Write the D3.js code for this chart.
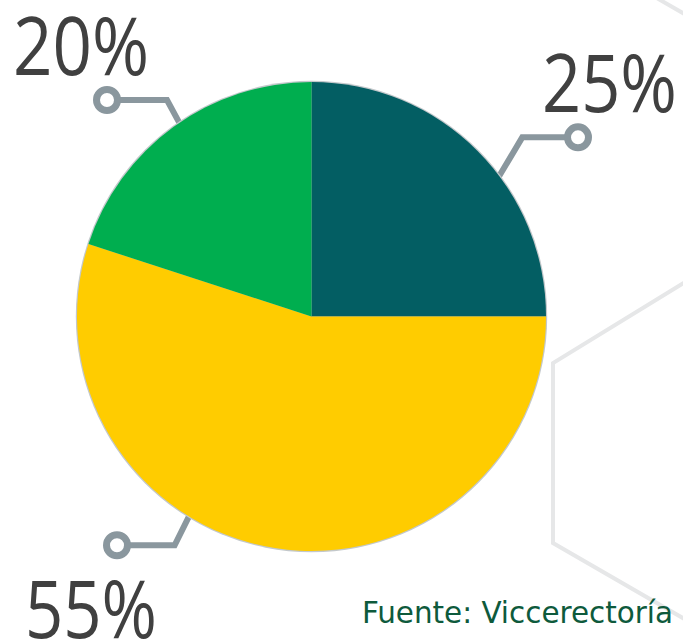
<!DOCTYPE html>
<html>
<head>
<meta charset="utf-8">
<script src="https://cdn.jsdelivr.net/npm/d3@7"></script>
<style>
  html, body { margin: 0; padding: 0; background: #ffffff; }
  svg { display: block; }
</style>
</head>
<body>
<svg id="chart" width="683" height="639"></svg>
<script>
// ---- data ----
const categories = ["Segmento A", "Segmento B", "Segmento C"];
const values = [25, 55, 20];
const labels = ["25%", "55%", "20%"];
const colors = ["#035E63", "#FFCC00", "#00AE4F"];
const sourceText = "Fuente: Viccerectoría";

// ---- layout ----
const W = 683, H = 639;
const cx = 311.5, cy = 316.5, R = 234.5;
const leaderAngles = [53.6, 211.6, 325.6];          // degrees, where leader meets pie edge
const elbowOffsets = [[22, -40], [-14, 29], [-12, -23]];
const dotX = [578, 117, 107];
const labelPos = [[542, 112, 135], [25, 638, 132], [13, 75, 136]]; // x, baseline, width

const svg = d3.select("#chart");

// background hexagon decoration
const hex = svg.append("g").attr("fill", "none").attr("stroke", "#E6E7E8").attr("stroke-width", 4);
hex.append("path").attr("d", d3.line()([[700, 273], [553, 363], [553, 543], [700, 628]]));
hex.append("path").attr("d", d3.line()([[655, -3], [700, 23]]));

const pie = d3.pie().sort(null).value(d => d)(values);
const arc = d3.arc().innerRadius(0).outerRadius(R);

const g = svg.append("g");

// leaders (drawn under the pie)
const leaders = g.append("g");
values.forEach((v, i) => {
  const a = leaderAngles[i] * Math.PI / 180;
  const ex = cx + (R - 4) * Math.sin(a), ey = cy - (R - 4) * Math.cos(a);
  const ex2 = cx + R * Math.sin(a), ey2 = cy - R * Math.cos(a);
  const bx = ex2 + elbowOffsets[i][0], by = ey2 + elbowOffsets[i][1];
  leaders.append("path")
    .attr("d", d3.line()([[ex, ey], [bx, by], [dotX[i], by]]))
    .attr("fill", "none").attr("stroke", "#8A979E").attr("stroke-width", 6)
    .attr("stroke-linejoin", "miter");
  leaders.append("circle")
    .attr("cx", dotX[i]).attr("cy", by).attr("r", 10.5)
    .attr("fill", "#ffffff").attr("stroke", "#8A979E").attr("stroke-width", 7);
});

// soft pie outline
g.append("circle").attr("cx", cx).attr("cy", cy).attr("r", R + 1.2)
  .attr("fill", "#c3c8cb");

const slices = g.append("g").attr("transform", `translate(${cx},${cy})`);
slices.selectAll("path").data(pie).join("path")
  .attr("d", arc)
  .attr("fill", (d, i) => colors[i]);

// percentage labels
svg.append("g").selectAll("text").data(labels).join("text")
  .attr("x", (d, i) => labelPos[i][0])
  .attr("y", (d, i) => labelPos[i][1])
  .attr("textLength", (d, i) => labelPos[i][2])
  .attr("lengthAdjust", "spacingAndGlyphs")
  .attr("font-family", "'Open Sans', 'DejaVu Sans', sans-serif")
  .attr("font-size", 80)
  .attr("fill", "#404040")
  .text(d => d);

// source
svg.append("text")
  .attr("x", 362).attr("y", 623)
  .attr("textLength", 311)
  .attr("lengthAdjust", "spacingAndGlyphs")
  .attr("font-family", "'DejaVu Sans Condensed', 'DejaVu Sans', sans-serif")
  .attr("font-stretch", "condensed")
  .attr("font-size", 31)
  .attr("fill", "#0E5A3C")
  .text(sourceText);
</script>
</body>
</html>
